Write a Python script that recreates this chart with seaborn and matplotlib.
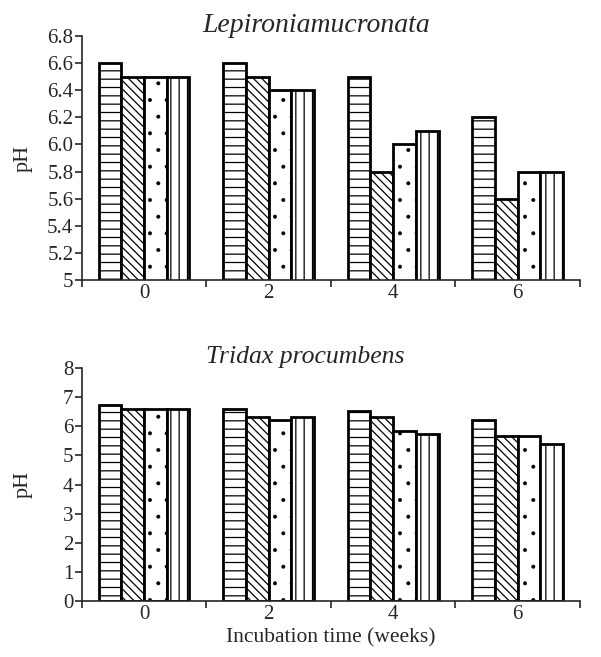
import numpy as np
import pandas as pd
import matplotlib
matplotlib.use("Agg")
import matplotlib.pyplot as plt
import seaborn as sns

# data
weeks = ["0", "2", "4", "6"]
treatments = ["T1", "T2", "T3", "T4"]
lepironia_ph = [
    [6.6, 6.5, 6.5, 6.5],
    [6.6, 6.5, 6.4, 6.4],
    [6.5, 5.8, 6.0, 6.1],
    [6.2, 5.6, 5.8, 5.8],
]
tridax_ph = [
    [6.73, 6.6, 6.6, 6.6],
    [6.6, 6.33, 6.22, 6.33],
    [6.53, 6.33, 5.85, 5.73],
    [6.22, 5.67, 5.67, 5.4],
]
top_yticks = [5.0, 5.2, 5.4, 5.6, 5.8, 6.0, 6.2, 6.4, 6.6, 6.8]
top_yticklabels = ["5", "5.2", "5.4", "5.6", "5.8", "6.0", "6.2", "6.4", "6.6", "6.8"]
bottom_yticks = [0, 1, 2, 3, 4, 5, 6, 7, 8]

HATCHES = ["--", "\\\\\\\\", ".", "||"]

sns.set_style("ticks")
plt.rcParams["font.family"] = ["Liberation Serif", "DejaVu Serif"]
plt.rcParams["hatch.linewidth"] = 0.9
plt.rcParams["hatch.color"] = "black"


def to_frame(values):
    rows = []
    for w, vals in zip(weeks, values):
        for t, v in zip(treatments, vals):
            rows.append({"week": w, "treatment": t, "pH": v})
    return pd.DataFrame(rows)


def draw(ax, values, ylim, yticks, yticklabels, title, title_x, title_y, title_size):
    df = to_frame(values)
    sns.barplot(data=df, x="week", y="pH", hue="treatment", order=weeks,
                hue_order=treatments, width=0.73, ax=ax, legend=False,
                color="white", saturation=1)
    n = len(weeks)
    for i, p in enumerate(ax.patches):
        p.set_facecolor("white")
        p.set_edgecolor("black")
        p.set_linewidth(2.0)
        p.set_hatch(HATCHES[i // n])
        # smaller dots for the dotted series
        if HATCHES[i // n] == "." and hasattr(p, "set_hatch_linewidth"):
            p.set_hatch_linewidth(0.4)
    ax.set_xlim(-0.5, n - 0.5)
    ax.set_ylim(*ylim)
    ax.set_yticks(yticks)
    ax.set_yticklabels(yticklabels)
    ax.set_xticks(np.arange(-0.5, n, 1.0), minor=True)
    ax.tick_params(axis="x", which="major", length=0, labelsize=15, pad=3)
    ax.tick_params(axis="x", which="minor", length=5, width=1.2, direction="out")
    ax.tick_params(axis="y", length=5, width=1.2, labelsize=15, pad=1)
    for s in ("top", "right"):
        ax.spines[s].set_visible(False)
    for s in ("left", "bottom"):
        ax.spines[s].set_linewidth(1.2)
    ax.set_xlabel("")
    ax.set_ylabel("pH", fontsize=16)
    ax.yaxis.set_label_coords(-0.098, 0.5)
    ax.text(title_x, title_y, title, transform=ax.transAxes, ha="center",
            va="baseline", fontsize=title_size, style="italic")


fig = plt.figure(figsize=(6.01, 6.57), dpi=100)
ax1 = fig.add_axes([0.136, 0.574, 0.829, 0.371])
ax2 = fig.add_axes([0.136, 0.085, 0.829, 0.355])

draw(ax1, lepironia_ph, (5, 6.8), top_yticks, top_yticklabels,
     "Lepironiamucronata", 0.47, 1.016, 20)
draw(ax2, tridax_ph, (0, 8), bottom_yticks, [str(v) for v in bottom_yticks],
     "Tridax procumbens", 0.448, 1.021, 18.5)
ax2.set_xlabel("Incubation time (weeks)", fontsize=15.5, labelpad=3)

fig.savefig("out.png", dpi=100)
